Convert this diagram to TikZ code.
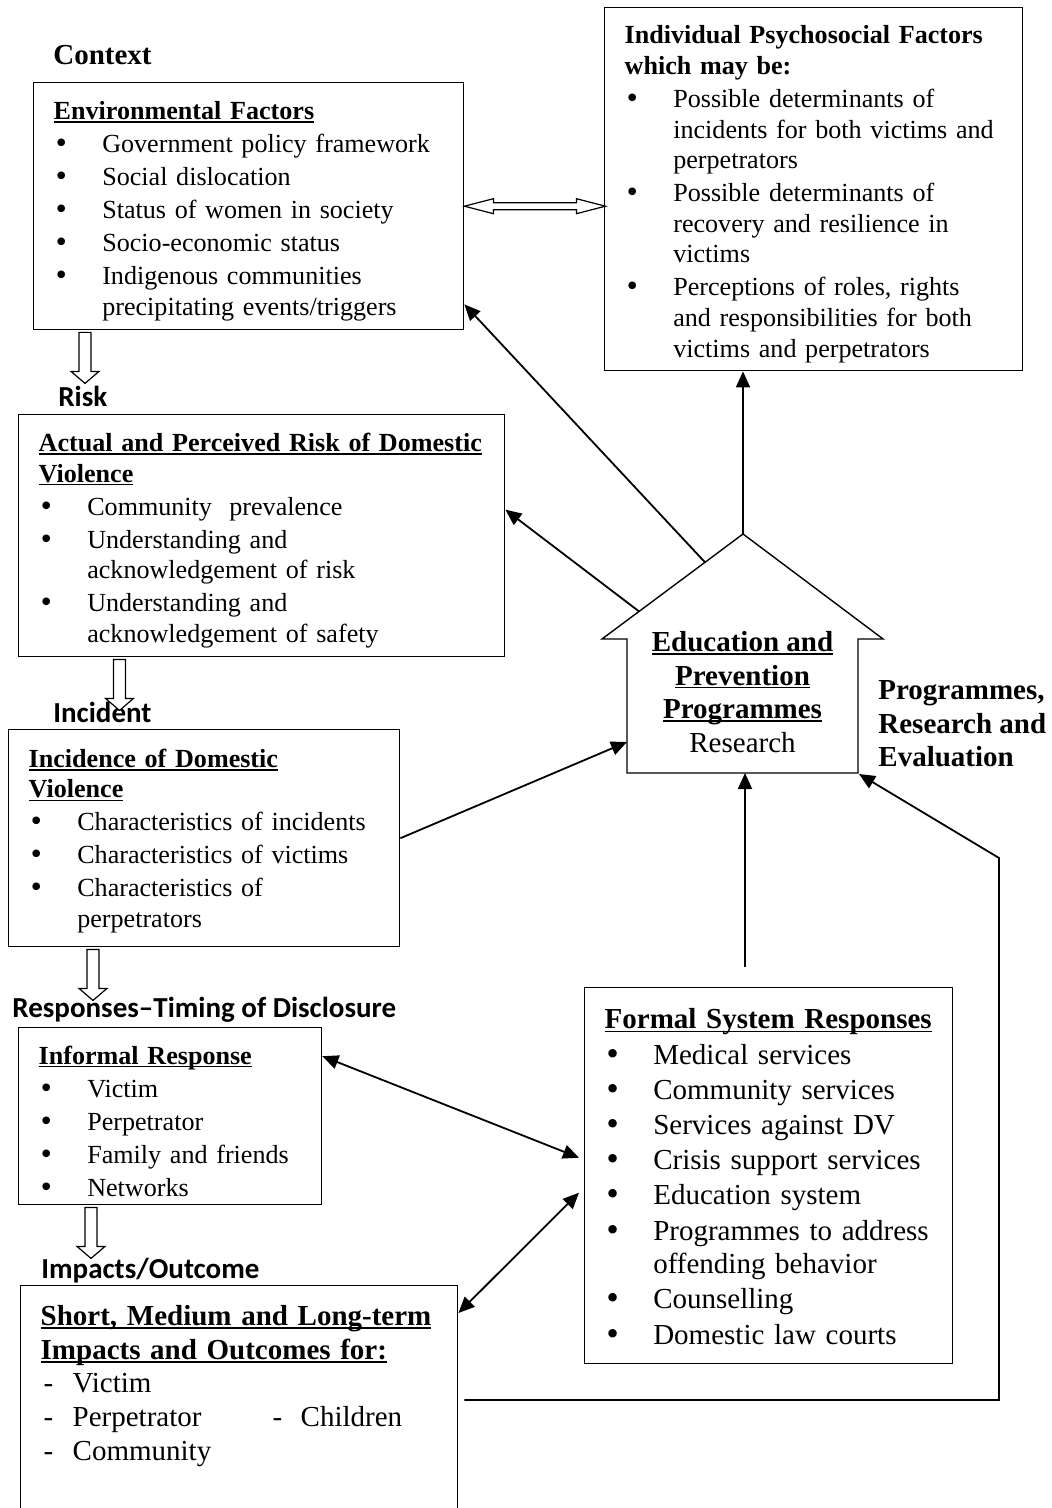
\documentclass[tikz,border=0pt]{standalone}
\usepackage{fontspec}
\setmainfont{Liberation Serif}
\newfontfamily\calibri{Carlito}
\newfontfamily\dejavu{DejaVu Sans}
\usetikzlibrary{arrows.meta}

\newcommand\bodyfont{\fontsize{13.05pt}{15.3pt}\selectfont}
\newcommand\largefont{\fontsize{14.5pt}{16.8pt}\selectfont}
\newcommand\uln[1]{\setbox0\hbox{#1}\rlap{\rule[-1.6pt]{\wd0}{0.8pt}}\box0}
\newcommand\bul{\makebox[24.3pt][l]{\dejavu •}}
\newcommand\cont{\hspace*{24.3pt}}
\newcommand\dashitem{\makebox[16pt][l]{\hspace*{1.5pt}-}}

\tikzset{
  factorbox/.style={draw, line width=0.7pt, anchor=north west, inner xsep=10pt, inner ysep=0pt, align=left, font=\bodyfont, text height=14pt},
  stagelabel/.style={anchor=base west, inner sep=0pt, font=\calibri\bfseries\fontsize{14.5pt}{17pt}\selectfont},
  arr/.style={-{Triangle[length=8pt,width=7pt]}, line width=0.9pt},
  biarr/.style={{Triangle[length=8pt,width=7pt]}-{Triangle[length=8pt,width=7pt]}, line width=0.9pt},
  hollow/.style={draw, line width=0.6pt, fill=white},
  hollowdown/.pic={\draw[hollow] (-3pt,0) -- (-3pt,-19.5pt) -- (-7pt,-19.5pt) -- (0,-25.5pt) -- (7pt,-19.5pt) -- (3pt,-19.5pt) -- (3pt,0) -- cycle;}
}

\begin{document}
\begin{tikzpicture}[x=0.5pt,y=-0.5pt,line join=miter]
\useasboundingbox (0,0) rectangle (1051,1508);
\clip (0,0) rectangle (1051,1508);

\node[anchor=base west, inner sep=0pt, font=\largefont\bfseries] (context) at (53,65) {Context};
\node[stagelabel] (risklbl) at (58,406) {Risk};
\node[stagelabel] (inclbl) at (53,722) {Incident};
\node[stagelabel] (resplbl) at (12,1017) {Responses–Timing of Disclosure};
\node[stagelabel] (implbl) at (41,1278) {Impacts/Outcome};

\node[factorbox, text width=195pt, minimum height=123.5pt] (env) at (33,82) {\textbf{\uln{Environmental Factors}}\\[1.2pt]
\bul Government policy framework\\[1.2pt]
\bul Social dislocation\\[1.2pt]
\bul Status of women in society\\[1.2pt]
\bul Socio-economic status\\[1.2pt]
\bul Indigenous communities\\
\cont precipitating events/triggers};

\node[factorbox, text width=189pt, minimum height=181.5pt] (ind) at (604,7) {\textbf{Individual Psychosocial Factors}\\
\textbf{which may be:}\\[1.2pt]
\bul Possible determinants of\\
\cont incidents for both victims and\\
\cont perpetrators\\[1.2pt]
\bul Possible determinants of\\
\cont recovery and resilience in\\
\cont victims\\[1.2pt]
\bul Perceptions of roles, rights\\
\cont and responsibilities for both\\
\cont victims and perpetrators};

\node[factorbox, text width=223pt, minimum height=121pt] (risk) at (18,414) {\textbf{\uln{Actual and Perceived Risk of Domestic}}\\
\textbf{\uln{Violence}}\\[1.2pt]
\bul Community~~prevalence\\[1.2pt]
\bul Understanding and\\
\cont acknowledgement of risk\\[1.2pt]
\bul Understanding and\\
\cont acknowledgement of safety};

\node[factorbox, text width=175.5pt, minimum height=108.5pt, text height=12pt] (inc) at (8,729) {\textbf{\uln{Incidence of Domestic}}\\
\textbf{\uln{Violence}}\\[1.2pt]
\bul Characteristics of incidents\\[1.2pt]
\bul Characteristics of victims\\[1.2pt]
\bul Characteristics of\\
\cont perpetrators};

\node[factorbox, text width=131.5pt, minimum height=88.5pt] (infr) at (18,1027) {\textbf{\uln{Informal Response}}\\[1.2pt]
\bul Victim\\[1.2pt]
\bul Perpetrator\\[1.2pt]
\bul Family and friends\\[1.2pt]
\bul Networks};

\node[factorbox, text width=164pt, minimum height=188pt, font=\largefont, text height=11pt] (form) at (584,987) {\textbf{\uln{Formal System Responses}}\\[0.8pt]
\bul Medical services\\[0.8pt]
\bul Community services\\[0.8pt]
\bul Services against DV\\[0.8pt]
\bul Crisis support services\\[0.8pt]
\bul Education system\\[0.8pt]
\bul Programmes to address\\
\cont offending behavior\\[0.8pt]
\bul Counselling\\[0.8pt]
\bul Domestic law courts};

\node[factorbox, text width=198.5pt, inner ysep=10pt, text height=10pt, text depth=120pt, font=\largefont] (imp) at (20,1285) {\textbf{\uln{Short, Medium and Long-term}}\\
\textbf{\uln{Impacts and Outcomes for:}}\\
\dashitem Victim\\
\dashitem \makebox[98.5pt][l]{Perpetrator}\makebox[15.5pt][l]{\hspace*{1.5pt}-}Children\\
\dashitem Community};

\coordinate (tipL) at (602,639);
\coordinate (apex) at (743,534);
\coordinate (tipR) at (883,639);
\coordinate (roofA) at (639,611.4);
\coordinate (roofB) at (705,562.3);
\coordinate (houseW) at (627,742);
\coordinate (houseS) at (745,773);
\coordinate (houseSE) at (859,774);
\coordinate (bendA) at (999,1400);
\coordinate (bendB) at (999,858);

\draw[line width=0.7pt] (tipL) -- (apex) -- (tipR) -- (858,639) -- (858,773) -- (627,773) -- (627,639) -- cycle;
\node[font=\largefont, align=center, inner sep=0pt] (edu) at (742.5,692) {\textbf{\uln{Education and}}\\ \textbf{\uln{Prevention}}\\ \textbf{\uln{Programmes}}\\ Research};
\node[anchor=west, inner sep=0pt, align=left, font=\largefont\bfseries] (pre) at (878,724) {Programmes,\\Research and\\Evaluation};

\draw[hollow] (env.east) -- ++(14.5pt,3.75pt) -- ++(0,-2pt) -- ++(41.5pt,0) -- ++(0,2pt) -- ++(14.5pt,-3.75pt) -- ++(-14.5pt,-3.75pt) -- ++(0,2pt) -- ++(-41.5pt,0) -- ++(0,-2pt) -- cycle;

\pic at ([xshift=26pt,yshift=-1pt]env.south west) {hollowdown};
\pic at ([xshift=50.75pt,yshift=-1pt]risk.south west) {hollowdown};
\pic at ([xshift=42.5pt,yshift=-1pt]inc.south west) {hollowdown};
\pic at ([xshift=36.5pt,yshift=-1pt]infr.south west) {hollowdown};

\draw[arr] (roofB) -- ([yshift=13pt]env.south east);
\draw[arr] (roofA) -- ([yshift=13pt]risk.east);
\draw[arr] (apex) -- (apex |- ind.south);
\draw[arr] (inc.east) -- (houseW);
\draw[arr] ([yshift=10pt]form.north -| houseS) -- (houseS);
\draw[arr] ([xshift=3pt,yshift=-57.5pt]imp.north east) -- (bendA) -- (bendB) -- (houseSE);
\draw[biarr] ([yshift=30pt]infr.east) -- ([xshift=-2.5pt,yshift=9pt]form.west);
\draw[biarr] ([yshift=-14pt]imp.north east) -- ([xshift=-2.5pt,yshift=-8.5pt]form.west);
\end{tikzpicture}
\end{document}
